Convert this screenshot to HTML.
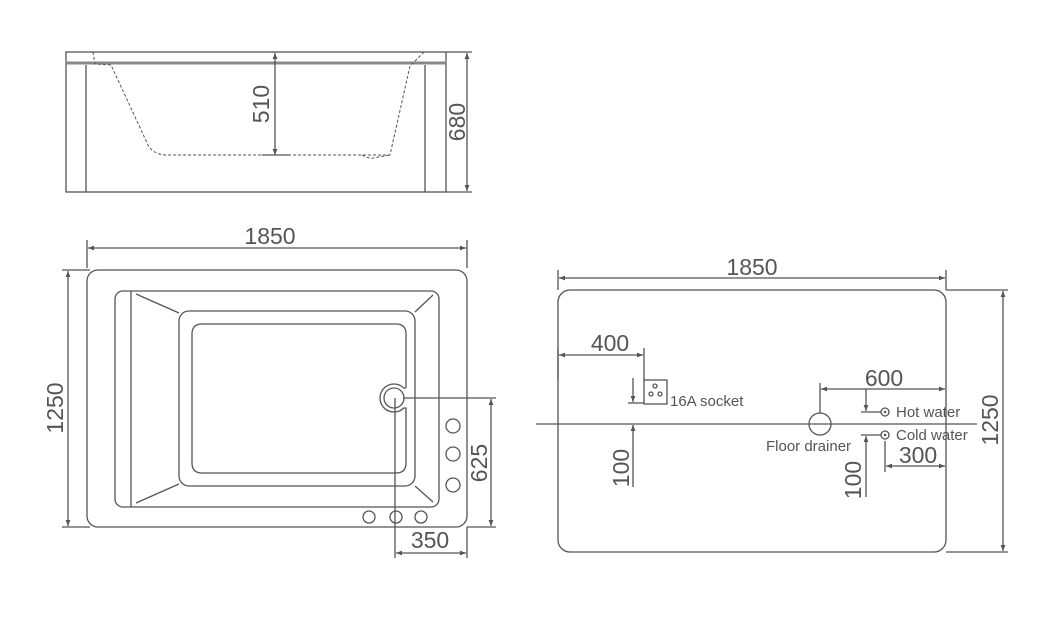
<!DOCTYPE html>
<html><head><meta charset="utf-8"><style>
html,body{margin:0;padding:0;background:#fff;}
svg{display:block;}
text{font-family:"Liberation Sans",sans-serif;fill:#555;}
</style></head><body>
<svg width="1051" height="627" viewBox="0 0 1051 627" xmlns="http://www.w3.org/2000/svg">
<defs>
<marker id="a" viewBox="0 0 10 10" refX="10" refY="5" markerWidth="10" markerHeight="6" orient="auto-start-reverse" markerUnits="userSpaceOnUse"><path d="M0,1 L10,5 L0,9 Z" fill="#555"/></marker>
</defs>
<g fill="none" stroke="#555" stroke-width="1.3">
<rect x="66" y="52" width="380" height="140"/>
<line x1="66" y1="63" x2="446" y2="63" stroke="#888" stroke-width="3"/>
<line x1="86" y1="65" x2="86" y2="192"/>
<line x1="425" y1="65" x2="425" y2="192"/>
<path d="M93,52 L95,64 L111,65 L148,145 Q153,154 165,155 L390,155 L410,66 L424,52" stroke-dasharray="3,2" stroke-width="1"/>
<path d="M362,155 Q370,160 378,157 L390,155" stroke-dasharray="3,2" stroke-width="1"/>
<line x1="275" y1="53" x2="275" y2="155" marker-start="url(#a)" marker-end="url(#a)"/>
<line x1="262" y1="155" x2="290" y2="155"/>
<line x1="446" y1="52" x2="472" y2="52"/><line x1="446" y1="192" x2="472" y2="192"/>
<line x1="467" y1="53" x2="467" y2="191" marker-start="url(#a)" marker-end="url(#a)"/>

<rect x="87" y="270" width="380" height="257" rx="11"/>
<rect x="115" y="291" width="324" height="216" rx="8"/>
<line x1="131" y1="291" x2="131" y2="507"/>
<rect x="179" y="311" width="236" height="175" rx="10"/>
<path d="M406,388 L406,334 Q406,324 396,324 L202,324 Q192,324 192,334 L192,463 Q192,473 202,473 L396,473 Q406,473 406,463 L406,408 L403.8,408 A14,14 0 1 1 403.8,388 L406,388"/>
<circle cx="394" cy="398" r="10"/>
<line x1="136" y1="294" x2="179" y2="313"/><line x1="136" y1="503" x2="179" y2="484"/>
<line x1="433" y1="295" x2="415" y2="312"/><line x1="433" y1="502" x2="415" y2="486"/>
<circle cx="453" cy="426" r="7"/><circle cx="453" cy="454" r="7"/><circle cx="453" cy="485" r="7"/>
<circle cx="369" cy="517" r="6"/><circle cx="396" cy="517" r="6"/><circle cx="421" cy="517" r="6"/>
<line x1="87" y1="240" x2="87" y2="268"/><line x1="467" y1="240" x2="467" y2="268"/>
<line x1="88" y1="248" x2="466" y2="248" marker-start="url(#a)" marker-end="url(#a)"/>
<line x1="62" y1="270" x2="90" y2="270"/><line x1="62" y1="527" x2="90" y2="527"/>
<line x1="68" y1="271" x2="68" y2="526" marker-start="url(#a)" marker-end="url(#a)"/>
<line x1="403" y1="398" x2="496" y2="398"/><line x1="467" y1="527" x2="496" y2="527"/>
<line x1="491" y1="399" x2="491" y2="526" marker-start="url(#a)" marker-end="url(#a)"/>
<line x1="395" y1="398" x2="395" y2="558"/><line x1="467" y1="527" x2="467" y2="558"/>
<line x1="396" y1="553" x2="466" y2="553" marker-start="url(#a)" marker-end="url(#a)"/>

<rect x="558" y="290" width="388" height="262" rx="12"/>
<line x1="558" y1="270" x2="558" y2="290"/><line x1="946" y1="270" x2="946" y2="290"/>
<line x1="559" y1="278" x2="945" y2="278" marker-start="url(#a)" marker-end="url(#a)"/>
<line x1="946" y1="290" x2="1008" y2="290"/><line x1="946" y1="552" x2="1008" y2="552"/>
<line x1="1003" y1="291" x2="1003" y2="551" marker-start="url(#a)" marker-end="url(#a)"/>
<line x1="536" y1="424" x2="977" y2="424"/>
<line x1="558" y1="348" x2="558" y2="380"/><line x1="644" y1="348" x2="644" y2="380"/>
<line x1="559" y1="355" x2="643" y2="355" marker-start="url(#a)" marker-end="url(#a)"/>
<rect x="644" y="380" width="23" height="24"/>
<circle cx="655" cy="386" r="2"/><circle cx="651" cy="394" r="2"/><circle cx="660" cy="394" r="2"/>
<line x1="628" y1="403" x2="644" y2="403"/>
<line x1="633" y1="378" x2="633" y2="402" marker-end="url(#a)"/>
<line x1="633" y1="487" x2="633" y2="425" marker-end="url(#a)"/>
<circle cx="820" cy="424" r="11"/>
<line x1="820" y1="413" x2="820" y2="383"/>
<line x1="821" y1="389" x2="945" y2="389" marker-start="url(#a)" marker-end="url(#a)"/>
<circle cx="885" cy="412" r="4"/><circle cx="885" cy="435" r="4"/>
<circle cx="885" cy="412" r="0.6"/><circle cx="885" cy="435" r="0.6"/>
<line x1="861" y1="412" x2="881" y2="412"/><line x1="861" y1="435" x2="881" y2="435"/>
<line x1="866" y1="389" x2="866" y2="411" marker-end="url(#a)"/>
<line x1="866" y1="497" x2="866" y2="436" marker-end="url(#a)"/>
<line x1="885" y1="441" x2="885" y2="472"/>
<line x1="886" y1="466" x2="945" y2="466" marker-start="url(#a)" marker-end="url(#a)"/>
</g>
<g font-size="23">
<text x="261" y="104" text-anchor="middle" transform="rotate(-90 261 104)" dominant-baseline="central">510</text>
<text x="457" y="122" text-anchor="middle" transform="rotate(-90 457 122)" dominant-baseline="central">680</text>
<text x="270" y="244" text-anchor="middle">1850</text>
<text x="55" y="408" text-anchor="middle" transform="rotate(-90 55 408)" dominant-baseline="central">1250</text>
<text x="479" y="463" text-anchor="middle" transform="rotate(-90 479 463)" dominant-baseline="central">625</text>
<text x="430" y="548" text-anchor="middle">350</text>
<text x="752" y="275" text-anchor="middle">1850</text>
<text x="990" y="420" text-anchor="middle" transform="rotate(-90 990 420)" dominant-baseline="central">1250</text>
<text x="610" y="351" text-anchor="middle">400</text>
<text x="621" y="468" text-anchor="middle" transform="rotate(-90 621 468)" dominant-baseline="central">100</text>
<text x="884" y="386" text-anchor="middle">600</text>
<text x="853" y="480" text-anchor="middle" transform="rotate(-90 853 480)" dominant-baseline="central">100</text>
<text x="918" y="463" text-anchor="middle">300</text>
</g>
<g font-size="15">
<text x="670" y="406">16A socket</text>
<text x="766" y="451">Floor drainer</text>
<text x="896" y="417">Hot water</text>
<text x="896" y="440">Cold water</text>
</g>
</svg>
</body></html>
